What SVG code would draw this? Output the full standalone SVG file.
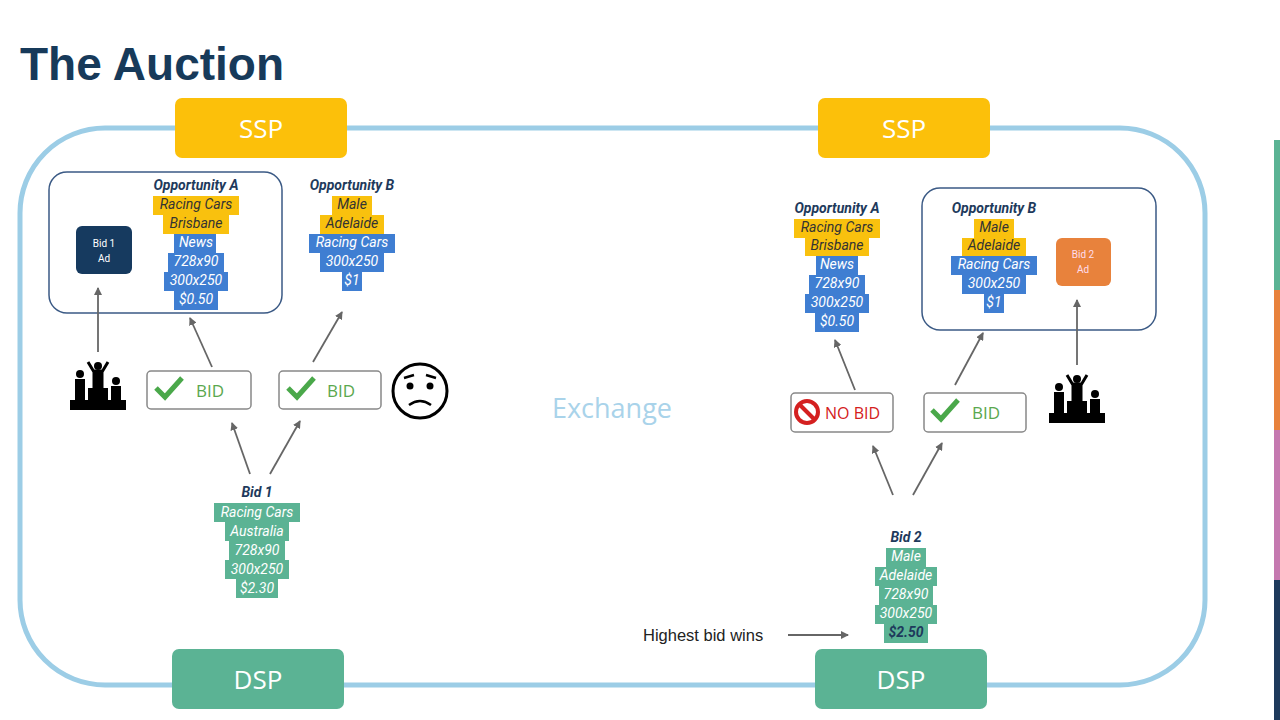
<svg xmlns="http://www.w3.org/2000/svg" width="1280" height="720" viewBox="0 0 1280 720">
<defs>
<marker id="ah" markerWidth="8" markerHeight="8" refX="7" refY="4" orient="auto" markerUnits="userSpaceOnUse"><path d="M0,0 L8,4 L0,8 z" fill="#666"/></marker>
<g id="podium">
<rect x="-28" y="14" width="56" height="10" fill="#000"/>
<rect x="-10" y="2" width="20" height="14" fill="#000"/>
<circle cx="0" cy="-20" r="4" fill="#000"/>
<path d="M-4,-15 h8 v16 h-8z M-4,-14 l-6,-10 M4,-14 l6,-10" stroke="#000" stroke-width="3" fill="#000"/>
<circle cx="-18" cy="-12" r="4" fill="#000"/>
<rect x="-23" y="-7" width="10" height="21" fill="#000"/>
<circle cx="18" cy="-5" r="4" fill="#000"/>
<rect x="13" y="0" width="10" height="14" fill="#000"/>
</g>
<path id="tick" d="M0,10 L9,19 L26,0" fill="none" stroke="#4aa84a" stroke-width="5"/>
</defs>
<style>
.t{font-family:Roboto,"Liberation Sans",sans-serif;font-style:italic;font-size:14px;text-anchor:middle}
.h{font-weight:bold;fill:#1e3a5c}
.y{fill:#333}
.w{fill:#fff}
.hy{fill:#f9c10e}.hb{fill:#3f7ed2}.hg{fill:#5bb394}
.arr{stroke:#666;stroke-width:1.8;fill:none;marker-end:url(#ah)}
.box{font-family:"Open Sans","Liberation Sans",sans-serif;font-size:26px;fill:#fff;text-anchor:middle}
.bid{fill:#fff;stroke:#888;stroke-width:1.5}
.bt{font-family:"Open Sans","Liberation Sans",sans-serif;font-size:17px;fill:#5aa84e}
</style>
<rect width="1280" height="720" fill="#fff"/>
<rect x="1274" y="140" width="6" height="150" fill="#5bb394"/>
<rect x="1274" y="290" width="6" height="140" fill="#e8823c"/>
<rect x="1274" y="430" width="6" height="150" fill="#c579b0"/>
<rect x="1274" y="580" width="6" height="140" fill="#1e3a5c"/>
<text x="20" y="80" font-family="'Liberation Sans',Arial,sans-serif" font-weight="bold" font-size="46" fill="#173a5a">The Auction</text>
<rect x="20" y="128" width="1185" height="557" rx="85" fill="none" stroke="#9ccde6" stroke-width="5"/>
<g id="ssp1"><rect x="175" y="98" width="172" height="60" rx="7" fill="#fcc00a"/><text class="box" x="261" y="138">SSP</text></g>
<g id="ssp2"><rect x="818" y="98" width="172" height="60" rx="7" fill="#fcc00a"/><text class="box" x="904" y="138">SSP</text></g>
<g id="dsp1"><rect x="172" y="649" width="172" height="60" rx="7" fill="#5bb394"/><text class="box" x="258" y="689">DSP</text></g>
<g id="dsp2"><rect x="815" y="649" width="172" height="60" rx="7" fill="#5bb394"/><text class="box" x="901" y="689">DSP</text></g>
<text id="exchange" x="612" y="418" font-family="'Open Sans','Liberation Sans',sans-serif" font-size="27" fill="#a9d3ea" text-anchor="middle">Exchange</text>

<g id="oppboxL"><rect x="49" y="172" width="233" height="141" rx="18" fill="none" stroke="#3b5a85" stroke-width="1.5"/></g>
<g id="oppboxR"><rect x="922" y="188" width="234" height="142" rx="18" fill="none" stroke="#3b5a85" stroke-width="1.5"/></g>
<g id="bid1ad"><rect x="76" y="226" width="56" height="48" rx="6" fill="#163a5f"/><text x="104" y="247" font-family="Roboto,'Liberation Sans',sans-serif" font-size="10" fill="#fff" text-anchor="middle">Bid 1</text><text x="104" y="262" font-family="Roboto,'Liberation Sans',sans-serif" font-size="10" fill="#fff" text-anchor="middle">Ad</text></g>
<g id="bid2ad"><rect x="1056" y="238" width="55" height="48" rx="6" fill="#e8823c"/><text x="1083" y="258" font-family="Roboto,'Liberation Sans',sans-serif" font-size="10" fill="#fde" text-anchor="middle">Bid 2</text><text x="1083" y="273" font-family="Roboto,'Liberation Sans',sans-serif" font-size="10" fill="#fde" text-anchor="middle">Ad</text></g>

<g id="oppAL">
<text class="t h" x="196" y="190">Opportunity A</text>
<rect class="hy" x="153" y="196" width="86" height="19"/><rect class="hy" x="163" y="215" width="66" height="19"/>
<rect class="hb" x="174" y="234" width="42" height="19"/><rect class="hb" x="168" y="253" width="56" height="19"/><rect class="hb" x="164" y="272" width="64" height="19"/><rect class="hb" x="174" y="291" width="44" height="19"/>
<text class="t y" x="196" y="209">Racing Cars</text><text class="t y" x="196" y="228">Brisbane</text>
<text class="t w" x="196" y="247">News</text><text class="t w" x="196" y="266">728x90</text><text class="t w" x="196" y="285">300x250</text><text class="t w" x="196" y="304">$0.50</text>
</g>
<g id="oppBL">
<text class="t h" x="352" y="190">Opportunity B</text>
<rect class="hy" x="332" y="196" width="40" height="19"/><rect class="hy" x="320" y="215" width="64" height="19"/>
<rect class="hb" x="309" y="234" width="86" height="19"/><rect class="hb" x="320" y="253" width="64" height="19"/><rect class="hb" x="342" y="272" width="20" height="19"/>
<text class="t y" x="352" y="209">Male</text><text class="t y" x="352" y="228">Adelaide</text>
<text class="t w" x="352" y="247">Racing Cars</text><text class="t w" x="352" y="266">300x250</text><text class="t w" x="352" y="285">$1</text>
</g>
<g id="bid1">
<text class="t h" x="257" y="497">Bid 1</text>
<rect class="hg" x="214" y="503" width="86" height="19"/><rect class="hg" x="225" y="522" width="64" height="19"/><rect class="hg" x="229" y="541" width="56" height="19"/><rect class="hg" x="225" y="560" width="64" height="19"/><rect class="hg" x="236" y="579" width="42" height="19"/>
<text class="t w" x="257" y="517">Racing Cars</text><text class="t w" x="257" y="536">Australia</text><text class="t w" x="257" y="555">728x90</text><text class="t w" x="257" y="574">300x250</text><text class="t w" x="257" y="593">$2.30</text>
</g>
<g id="oppAR">
<text class="t h" x="837" y="213">Opportunity A</text>
<rect class="hy" x="794" y="219" width="86" height="19"/><rect class="hy" x="805" y="238" width="64" height="18"/>
<rect class="hb" x="816" y="256" width="42" height="19"/><rect class="hb" x="809" y="275" width="56" height="19"/><rect class="hb" x="805" y="294" width="64" height="19"/><rect class="hb" x="815" y="313" width="44" height="19"/>
<text class="t y" x="837" y="232">Racing Cars</text><text class="t y" x="837" y="250">Brisbane</text>
<text class="t w" x="837" y="269">News</text><text class="t w" x="837" y="288">728x90</text><text class="t w" x="837" y="307">300x250</text><text class="t w" x="837" y="326">$0.50</text>
</g>
<g id="oppBR">
<text class="t h" x="994" y="213">Opportunity B</text>
<rect class="hy" x="974" y="219" width="40" height="19"/><rect class="hy" x="962" y="238" width="64" height="18"/>
<rect class="hb" x="951" y="256" width="86" height="19"/><rect class="hb" x="962" y="275" width="64" height="19"/><rect class="hb" x="984" y="294" width="20" height="19"/>
<text class="t y" x="994" y="232">Male</text><text class="t y" x="994" y="250">Adelaide</text>
<text class="t w" x="994" y="269">Racing Cars</text><text class="t w" x="994" y="288">300x250</text><text class="t w" x="994" y="307">$1</text>
</g>
<g id="bid2">
<text class="t h" x="906" y="542">Bid 2</text>
<rect class="hg" x="886" y="548" width="40" height="19"/><rect class="hg" x="875" y="567" width="62" height="19"/><rect class="hg" x="879" y="586" width="54" height="19"/><rect class="hg" x="875" y="605" width="62" height="19"/><rect class="hg" x="884" y="624" width="44" height="19"/>
<text class="t w" x="906" y="561">Male</text><text class="t w" x="906" y="580">Adelaide</text><text class="t w" x="906" y="599">728x90</text><text class="t w" x="906" y="618">300x250</text><text class="t h" x="906" y="637">$2.50</text>
</g>

<g id="bidL1"><rect class="bid" x="147" y="371" width="104" height="38" rx="4"/><use href="#tick" x="156" y="378"/><text class="bt" x="196" y="397">BID</text></g>
<g id="bidL2"><rect class="bid" x="279" y="371" width="102" height="38" rx="4"/><use href="#tick" x="288" y="378"/><text class="bt" x="327" y="397">BID</text></g>
<g id="nobid"><rect class="bid" x="791" y="393" width="102" height="39" rx="4"/><circle cx="807" cy="412" r="11" fill="none" stroke="#d42020" stroke-width="4"/><line x1="799" y1="404" x2="815" y2="420" stroke="#d42020" stroke-width="4"/><text x="825" y="419" font-family="'Open Sans','Liberation Sans',sans-serif" font-size="16" fill="#d42020">NO BID</text></g>
<g id="bidR"><rect class="bid" x="924" y="393" width="102" height="39" rx="4"/><use href="#tick" x="932" y="400"/><text class="bt" x="972" y="419">BID</text></g>
<g id="podiumL"><use href="#podium" x="98" y="386"/></g>
<g id="podiumR"><use href="#podium" x="1077" y="399"/></g>
<g id="sad"><circle cx="420" cy="391" r="27" fill="#fff" stroke="#000" stroke-width="3"/><circle cx="410" cy="386" r="3.5"/><circle cx="430" cy="386" r="3.5"/><path d="M404,378 l10,-3 M436,378 l-10,-3 M409,405 q11,-8 22,0" stroke="#000" stroke-width="2.5" fill="none"/></g>
<text id="hbw" x="643" y="641" font-family="'Liberation Sans',Arial,sans-serif" font-size="16.5" fill="#222">Highest bid wins</text>

<g id="connectors">
<line class="arr" x1="98" y1="352" x2="98" y2="288"/>
<line class="arr" x1="212" y1="367" x2="190" y2="318"/>
<line class="arr" x1="313" y1="362" x2="342" y2="312"/>
<line class="arr" x1="250" y1="474" x2="232" y2="423"/>
<line class="arr" x1="270" y1="474" x2="300" y2="421"/>
<line class="arr" x1="855" y1="390" x2="835" y2="340"/>
<line class="arr" x1="955" y1="385" x2="983" y2="333"/>
<line class="arr" x1="1077" y1="365" x2="1077" y2="300"/>
<line class="arr" x1="893" y1="495" x2="873" y2="446"/>
<line class="arr" x1="913" y1="495" x2="942" y2="443"/>
<line class="arr" x1="788" y1="635" x2="848" y2="635"/>
</g>
</svg>
